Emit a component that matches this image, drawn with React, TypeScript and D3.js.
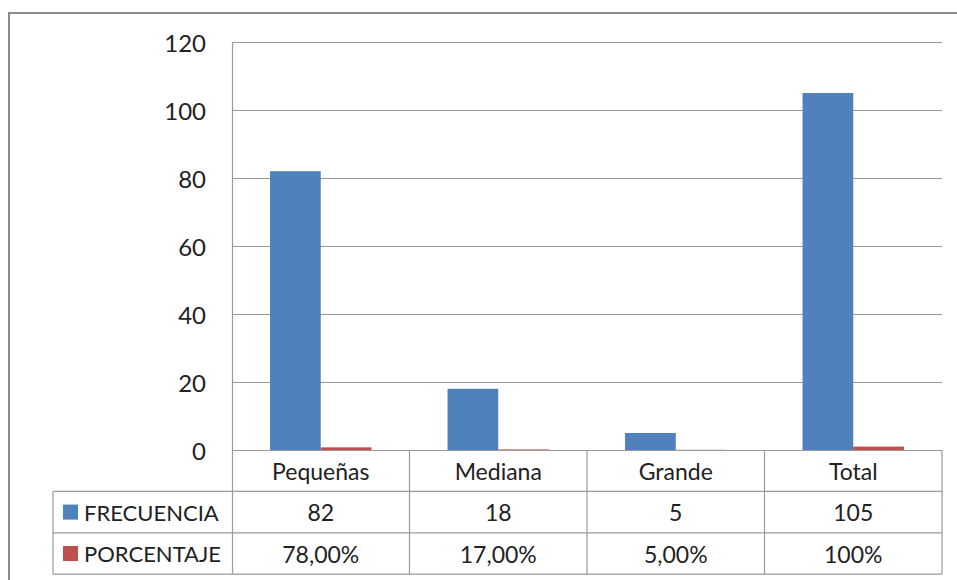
import React from "react";
import * as d3 from "d3";

const categories = ["Pequeñas", "Mediana", "Grande", "Total"];
const seriesNames = ["FRECUENCIA", "PORCENTAJE"];
const frecuencia = [82, 18, 5, 105];
const porcentaje = [0.78, 0.17, 0.05, 1.0];
const frecuenciaLabels = ["82", "18", "5", "105"];
const porcentajeLabels = ["78,00%", "17,00%", "5,00%", "100%"];
const yTicks = [0, 20, 40, 60, 80, 100, 120];
const colors = ["#4F81BD", "#C0504D"];

const W = 957;
const H = 580;
const left = 232;
const right = 942;
const top = 42;
const bottom = 450;
const tableLeft = 53;
const rowH = 41.4;
const FONT = "Lato, 'Open Sans', sans-serif";
const FS = 23;

export default function App() {
  const x = d3.scaleBand<string>().domain(categories).range([left, right]).paddingInner(0).paddingOuter(0);
  const x1 = d3.scaleBand<string>().domain(seriesNames).range([0, x.bandwidth()]).paddingInner(0).paddingOuter(0.75);
  const y = d3.scaleLinear().domain([0, 120]).range([bottom, top]);
  const series = [frecuencia, porcentaje];
  const rowLabels = [frecuenciaLabels, porcentajeLabels];
  const r0 = bottom;
  const r1 = bottom + rowH;
  const r2 = bottom + 2 * rowH;
  const r3 = bottom + 3 * rowH;
  const gridColor = "#9a9a9a";
  const textColor = "#222";
  return (
    <svg width={W} height={H} style={{ position: "absolute", left: 0, top: 0, background: "#fff" }} fontFamily={FONT}>
      <rect x={0} y={0} width={W} height={H} fill="#fff" />
      <rect x={9} y={13} width={W + 20} height={H + 20} fill="none" stroke="#8a8a8a" strokeWidth={2} />
      {yTicks.map((t) => (
        <g key={t}>
          <line x1={left} x2={right} y1={Math.round(y(t)) + 0.5} y2={Math.round(y(t)) + 0.5} stroke={gridColor} strokeWidth={1.2} />
          <text x={206} y={y(t)} textAnchor="end" dominantBaseline="central" fontSize={24} fill={textColor}>{t}</text>
        </g>
      ))}
      {categories.map((c, i) => (
        <g key={c}>
          {series.map((s, k) => (
            <rect key={k} x={(x(c) as number) + (x1(seriesNames[k]) as number)} y={y(s[i])} width={x1.bandwidth()} height={bottom - y(s[i])} fill={colors[k]} />
          ))}
        </g>
      ))}
      {/* table */}
      <line x1={left + 0.5} x2={left + 0.5} y1={top} y2={r3} stroke={gridColor} strokeWidth={1.2} />
      {categories.map((c, i) => (
        <line key={"v" + i} x1={(x(c) as number) + x.bandwidth()} x2={(x(c) as number) + x.bandwidth()} y1={r0} y2={r3} stroke={gridColor} strokeWidth={1.2} />
      ))}
      <line x1={tableLeft} x2={tableLeft} y1={r1} y2={r3} stroke={gridColor} strokeWidth={1.2} />
      {[r1, r2, r3].map((ry, i) => (
        <line key={"h" + i} x1={tableLeft} x2={right} y1={ry} y2={ry} stroke={gridColor} strokeWidth={1.2} />
      ))}
      {categories.map((c) => (
        <text key={"c" + c} x={(x(c) as number) + x.bandwidth() / 2} y={(r0 + r1) / 2} textAnchor="middle" dominantBaseline="central" fontSize={FS} fill={textColor}>{c}</text>
      ))}
      {seriesNames.map((name, k) => {
        const ry = k === 0 ? r1 : r2;
        return (
          <g key={name}>
            <rect x={63} y={ry + rowH / 2 - 7.5} width={15} height={15} fill={colors[k]} />
            <text x={84} y={ry + rowH / 2} dominantBaseline="central" fontSize={22} fill={textColor}>{name}</text>
            {categories.map((c, i) => (
              <text key={c} x={(x(c) as number) + x.bandwidth() / 2} y={ry + rowH / 2} textAnchor="middle" dominantBaseline="central" fontSize={FS} fill={textColor}>{rowLabels[k][i]}</text>
            ))}
          </g>
        );
      })}
    </svg>
  );
}
